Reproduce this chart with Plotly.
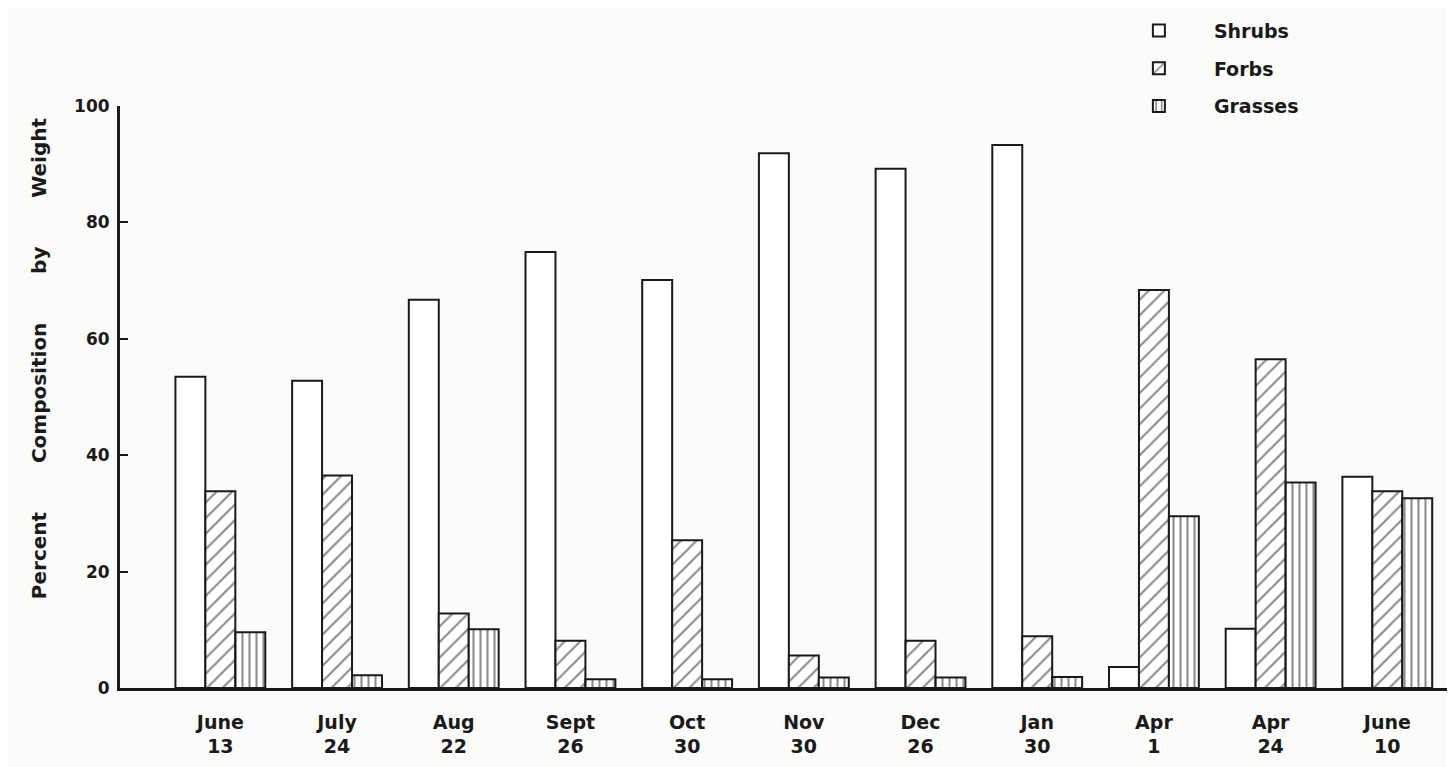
import plotly.graph_objects as go

categories = ["June<br>13", "July<br>24", "Aug<br>22", "Sept<br>26", "Oct<br>30", "Nov<br>30",
              "Dec<br>26", "Jan<br>30", "Apr<br>1", "Apr<br>24", "June<br>10"]
shrubs = [53.5, 52.8, 66.7, 74.9, 70.1, 91.9, 89.2, 93.3, 3.6, 10.2, 36.3]
forbs = [33.8, 36.5, 12.8, 8.1, 25.4, 5.6, 8.1, 8.9, 68.4, 56.5, 33.8]
grasses = [9.6, 2.2, 10.1, 1.5, 1.5, 1.8, 1.8, 1.9, 29.5, 35.3, 32.6]
y_ticks = [0, 20, 40, 60, 80, 100]
y_title_words = ["Percent", "Composition", "by", "Weight"]

FONT = "DejaVu Sans"
INK = "#1a1a1a"
BG = "#fbfbf9"
SP = "&nbsp;" * 7

x_idx = list(range(len(categories)))

fig = go.Figure()
fig.add_trace(go.Bar(
    x=x_idx, y=shrubs, name="Shrubs", legendgroup="s",
    marker=dict(color="white", line=dict(color=INK, width=2)),
))
fig.add_trace(go.Bar(
    x=x_idx, y=forbs, name="Forbs", legendgroup="f",
    marker=dict(color="white", line=dict(color=INK, width=2),
                pattern=dict(shape="/", fgcolor=INK, bgcolor="white", size=11, solidity=0.2)),
))
fig.add_trace(go.Bar(
    x=x_idx, y=grasses, name="Grasses", legendgroup="g",
    marker=dict(color="white", line=dict(color=INK, width=2),
                pattern=dict(shape="|", fgcolor=INK, bgcolor="white", size=7, solidity=0.3)),
))

fig.add_annotation(
    text=SP.join(y_title_words), textangle=-90,
    xref="paper", yref="paper", x=-0.061, y=0.566,
    xanchor="center", yanchor="middle", showarrow=False,
    font=dict(family=FONT, size=20, color=INK, weight=700),
)

fig.update_layout(
    width=1447, height=759,
    barmode="group", bargap=0.23, bargroupgap=0.0,
    paper_bgcolor=BG, plot_bgcolor=BG,
    margin=dict(l=112, r=0, t=98, b=79),
    font=dict(family=FONT, size=18, color=INK, weight=700),
    showlegend=True,
    legend=dict(x=0.737, y=1.162, xanchor="left", yanchor="top",
                bgcolor="rgba(0,0,0,0)", font=dict(family=FONT, size=19, color=INK, weight=700),
                tracegroupgap=10, itemwidth=100, traceorder="grouped"),
    xaxis=dict(
        tickmode="array", tickvals=x_idx, ticktext=categories,
        range=[-0.86, 10.58], showgrid=False, zeroline=False,
        showline=True, linecolor=INK, linewidth=2.5, ticks="",
        tickfont=dict(family=FONT, size=19, color=INK, weight=700),
        ticklabelstandoff=15,
    ),
    yaxis=dict(
        range=[0, 100], tickmode="array", tickvals=y_ticks,
        showgrid=False, zeroline=False,
        showline=True, linecolor=INK, linewidth=3,
        ticks="inside", ticklen=8, tickwidth=2, tickcolor=INK,
        tickfont=dict(family=FONT, size=17, color=INK, weight=700),
        ticklabelstandoff=4,
    ),
)

fig.write_html("out.html")
